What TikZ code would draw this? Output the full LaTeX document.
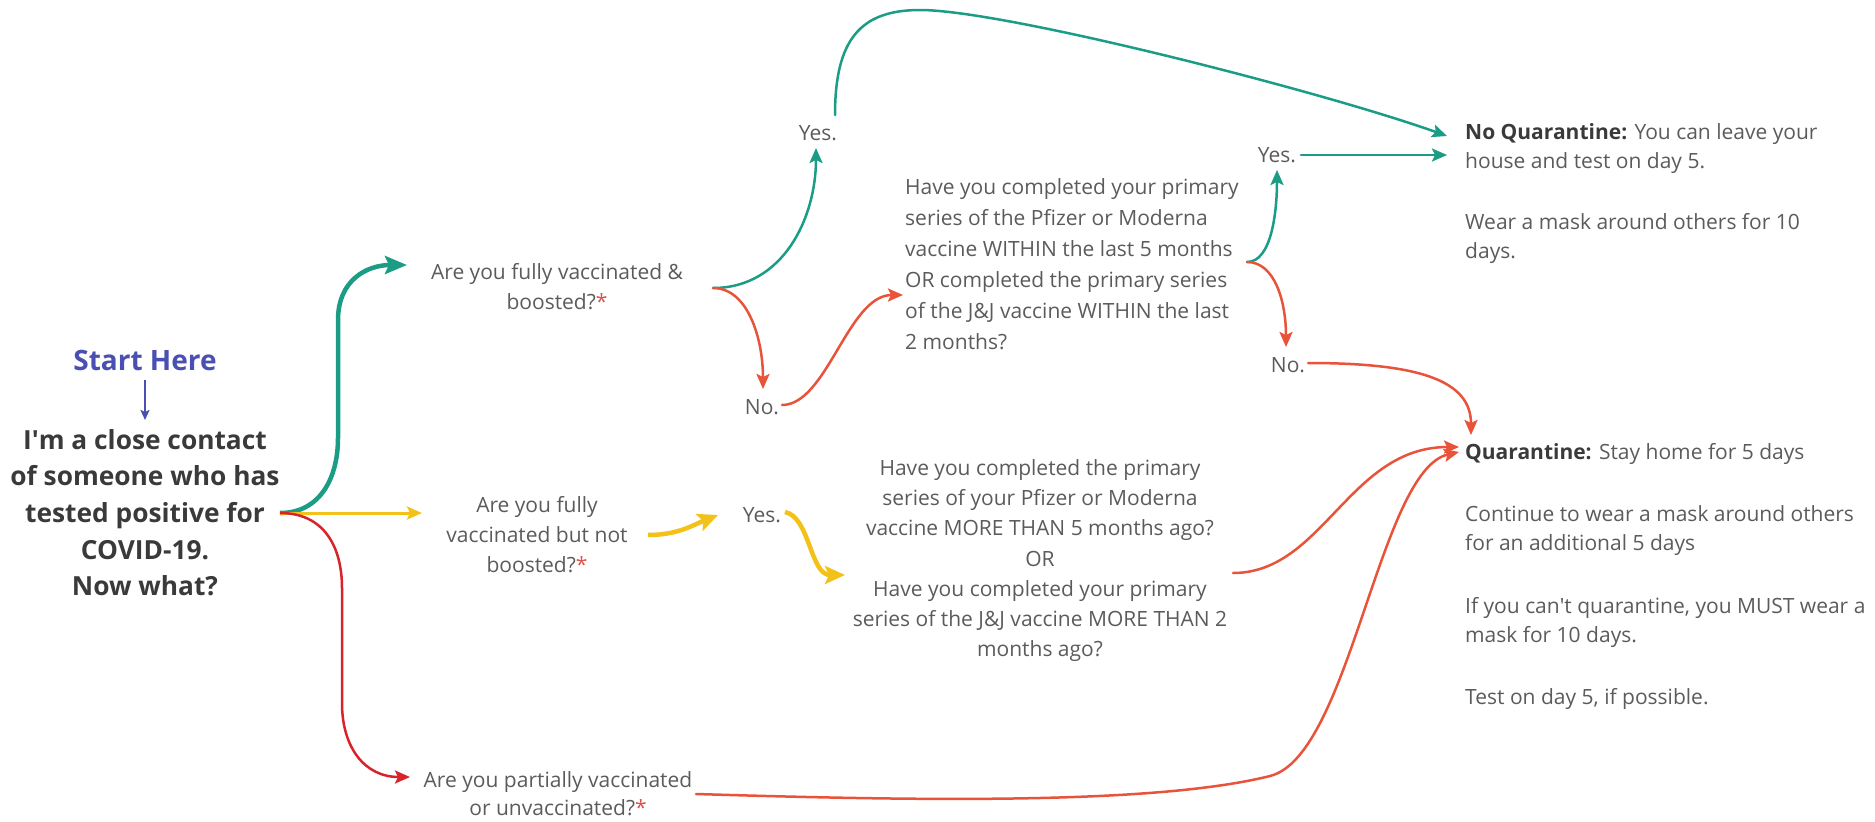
\documentclass[tikz,border=0pt]{standalone}
\usepackage{fontspec}
\setmainfont{Open Sans}
\usetikzlibrary{arrows.meta,calc}
\definecolor{tealc}{HTML}{1A9C85}
\definecolor{yelc}{HTML}{F2C21B}
\definecolor{redc}{HTML}{D8232A}
\definecolor{orc}{HTML}{E8533A}
\definecolor{txtgray}{HTML}{5B5B5B}
\definecolor{darkc}{HTML}{3A3A3A}
\definecolor{bluec}{HTML}{4A4FB2}
\definecolor{astred}{HTML}{D9534F}
\newcommand{\redast}{\textcolor{astred}{*}}
\begin{document}
\begin{tikzpicture}[x=1pt,y=-1pt,
  txt/.style={inner sep=0pt, text=txtgray, font=\fontsize{21}{30}\selectfont},
  boldtxt/.style={inner sep=0pt, text=darkc, font=\fontsize{26.3}{36.7}\selectfont\bfseries},
  con/.style={line width=2.5pt, line cap=round, -{Stealth[length=15pt,width=13pt,inset=3pt]}},
  thickcon/.style={line width=4.5pt, -{Stealth[length=20pt,width=18pt,inset=4pt]}},
  gcon/.style={con, draw=tealc},
  ocon/.style={con, draw=orc},
  ycon/.style={thickcon, draw=yelc}]
\useasboundingbox (0,0) rectangle (1875,822);

% nodes
\node[boldtxt, text=bluec, font=\fontsize{28}{34}\selectfont\bfseries] (start) at (145,360) {Start Here};
\node[boldtxt, anchor=north, align=center] (close) at (145,429)
  {I\textquotesingle m a close contact\\of someone who has\\tested positive for\\COVID-19.\\Now what?};
\node[txt, anchor=north, align=center] (q1) at (557,263)
  {Are you fully vaccinated \&\\boosted?\redast};
\node[txt, anchor=north, align=center] (q2) at (537,496)
  {Are you fully\\vaccinated but not\\boosted?\redast};
\node[txt, anchor=north, align=center, font=\fontsize{21}{28}\selectfont] (q3) at (558,771)
  {Are you partially vaccinated\\or unvaccinated?\redast};
\node[txt] (yes1) at (818,133) {Yes.};
\node[txt] (no1) at (762,407) {No.};
\node[txt, anchor=north west, align=left, font=\fontsize{21}{31}\selectfont] (q4) at (905,178)
  {Have you completed your primary\\series of the Pfizer or Moderna\\vaccine WITHIN the last 5 months\\OR completed the primary series\\of the J\&J vaccine WITHIN the last\\2 months?};
\node[txt] (yes2) at (1277,155) {Yes.};
\node[txt] (no2) at (1288,365) {No.};
\node[txt] (yes3) at (762,515) {Yes.};
\node[txt, anchor=north, align=center, font=\fontsize{21}{30.3}\selectfont] (q5) at (1040,459)
  {Have you completed the primary\\series of your Pfizer or Moderna\\vaccine MORE THAN 5 months ago?\\OR\\Have you completed your primary\\series of the J\&J vaccine MORE THAN 2\\months ago?};
\node[txt, anchor=north west, align=left, font=\fontsize{21}{29.5}\selectfont] (noq) at (1465,123)
  {\textcolor{darkc}{\bfseries No Quarantine:} You can leave your\\house and test on day 5.\\[31pt]Wear a mask around others for 10\\days.};
\node[txt, anchor=north west, align=left, font=\fontsize{21}{28.5}\selectfont] (quar) at (1465,443)
  {\textcolor{darkc}{\bfseries Quarantine:} Stay home for 5 days\\[34pt]Continue to wear a mask around others\\for an additional 5 days\\[35pt]If you can\textquotesingle t quarantine, you MUST wear a\\mask for 10 days.\\[34pt]Test on day 5, if possible.};

% connectors
\draw[draw=bluec, line width=2pt, -{Stealth[length=10pt,width=9pt,inset=2pt]}]
  ($(start)+(0,20)$) -- ($(close.north)+(0,-9)$);
\coordinate (src) at ($(close.north)+(135,84)$);
\draw[tealc, line width=4.5pt, -{Stealth[length=22pt,width=18pt,inset=4pt]}]
  (src) .. controls +(40,0) and +(0,40) .. ++(58,-75) -- ++(0,-118)
  .. controls +(0,-40) and +(-40,0) .. ($(q1.north)+(-150,2)$);
\draw[yelc, line width=3pt, -{Stealth[length=15pt,width=13pt,inset=3pt]}]
  (src) -- ($(q2.north)+(-115,17)$);
\draw[redc, line width=2.5pt, -{Stealth[length=15pt,width=13pt,inset=3pt]}]
  (src) .. controls +(45,0) and +(0,-40) .. ++(62,75) -- ++(0,115)
  .. controls +(0,45) and +(-45,0) .. ($(q3.north)+(-148,6)$);

\coordinate (b1) at ($(q1.north)+(156,25)$);
\draw[gcon] (b1) .. controls +(70,0) and +(0,70) .. ($(yes1)+(-2,15)$);
\draw[ocon] (b1) .. controls +(35,0) and +(0,-50) .. ($(no1)+(1,-18)$);
\draw[ocon] ($(no1)+(20,-2)$) .. controls +(45,0) and +(-55,0) .. ($(q4.north west)+(-2,117)$);
\draw[gcon] ($(yes1)+(17,-18)$) .. controls +(0,-75) and +(-60,0) .. ++(85,-105)
  .. controls +(85,0) and +(-120,-43) .. ($(noq.north west)+(-18,13)$);

\coordinate (b2) at ($(q4.north west)+(342,84)$);
\draw[gcon] (b2) .. controls +(25,0) and +(0,40) .. ($(yes2)+(0,15)$);
\draw[ocon] (b2) .. controls +(28,0) and +(0,-45) .. ($(no2)+(-2,-18)$);
\draw[gcon] ($(yes2)+(24,0)$) -- ($(noq.north west)+(-18,32)$);
\draw[ocon] ($(no2)+(20,-2)$) .. controls +(110,0) and +(0,-55) .. ($(quar.north west)+(6,-8)$);

\draw[ycon] ($(q2.north)+(111,39)$) .. controls +(30,0) and +(-25,10) .. ($(yes3)+(-44,0)$);
\draw[ycon] ($(yes3)+(23,-3)$) .. controls +(25,5) and +(-35,0) .. ($(q5.north)+(-195,116)$);
\draw[ocon] ($(q5.north)+(193,114)$) .. controls +(90,0) and +(-110,0) .. ($(quar.north west)+(-6,4)$);
\draw[ocon] ($(q3.north)+(138,23)$) .. controls +(200,6) and +(-120,30) .. ++(574,-18)
  .. controls +(80,-20) and +(-80,18) .. ($(quar.north west)+(-6,9)$);
\end{tikzpicture}
\end{document}
